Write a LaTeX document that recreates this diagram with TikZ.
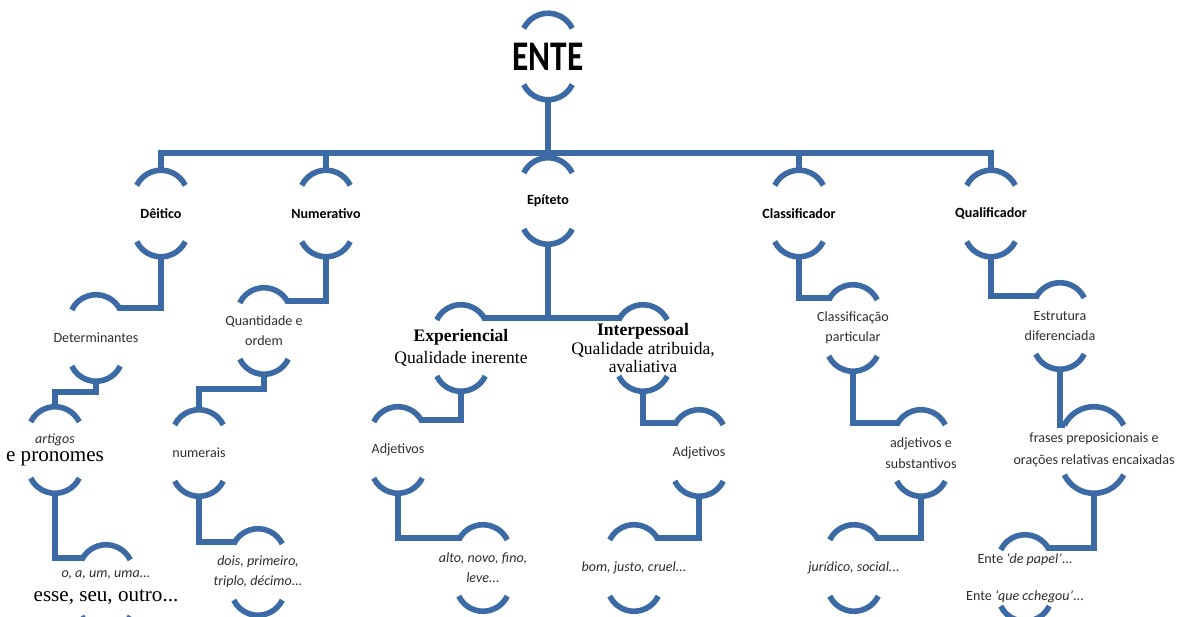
\documentclass[tikz,border=0pt]{standalone}
\usepackage{fontspec}
\setmainfont{Liberation Serif}
\setsansfont{Carlito}
\usepackage{xcolor}
\usepackage{tikz}
\usetikzlibrary{positioning}
\definecolor{brkblue}{HTML}{3B6AA5}
\definecolor{brkgrey}{HTML}{2E2E2E}
\newcommand{\Serif}[1]{{\rmfamily\fontsize{12.5}{15}\selectfont #1}}
\newcommand{\BigSerif}[1]{{\rmfamily\fontsize{15}{16}\selectfont #1}}

\begin{document}
\begin{tikzpicture}[x=0.025cm,y=0.025cm,
  brk/.style={align=center,inner sep=0pt,minimum height=2.15cm,
    font=\sffamily\fontsize{10}{14}\selectfont,text=brkgrey},
  head/.style={brk,font=\sffamily\bfseries\fontsize{10}{14}\selectfont,text=black},
  ex/.style={brk,font=\sffamily\itshape\fontsize{10}{14}\selectfont},
  link/.style={draw=brkblue,line width=4pt}]
\useasboundingbox (0,0) rectangle (1179,-617);

\node[brk,text=black,font=\sffamily\bfseries\fontsize{25}{28}\selectfont]
  (ente) at (548,-56.5) {\scalebox{0.95}[1.2]{ENTE}};

\node[head] (deit)  at (161,-213.5) {Dêitico};
\node[head] (num)   at (326,-213.5) {Numerativo};
\node[head] (epi)   at (548,-201)   {Epíteto};
\node[head] (class) at (799,-213.5) {Classificador};
\node[head] (qual)  at (991,-213.5) {Qualificador};

\node[brk] (det)    at (96,-338)   {Determinantes};
\node[brk] (quant)  at (264,-331)  {Quantidade e\\ordem};
\node[brk,text=black] (exper) at (461,-348)
  {\Serif{\bfseries Experiencial}\\[2pt]\Serif{Qualidade inerente}};
\node[brk,text=black] (inter) at (643,-348)
  {\Serif{\bfseries Interpessoal}\\[-1pt]\Serif{Qualidade atribuida,}\\[-1pt]\Serif{avaliativa}};
\node[brk] (clpart) at (853,-328)  {Classificação\\particular};
\node[brk] (estr)   at (1060,-326) {Estrutura\\diferenciada};

\node[brk] (art)    at (55,-450)   {\textit{artigos}\\[-1pt]\BigSerif{\color{black}e pronomes}};
\node[brk] (numer)  at (199,-453)  {numerais};
\node[brk] (adjL)   at (398,-450)  {Adjetivos};
\node[brk] (adjR)   at (699,-453)  {Adjetivos};
\node[brk] (adjsub) at (921,-453)  {adjetivos e\\[1pt]substantivos};
\node[brk] (frases) at (1094,-450) {frases preposicionais e\\[2pt]orações relativas encaixadas};

\node[brk] (oa)     at (106,-588)  {\textit{o, a, um, uma...}\\[3pt]\BigSerif{\color{black}esse, seu, outro...}};
\node[ex]  (dois)   at (258,-572)  {dois, primeiro,\\triplo, décimo...};
\node[ex]  (alto)   at (483,-568)  {alto, novo, fino,\\leve...};
\node[ex]  (bom)    at (634,-568)  {bom, justo, cruel...};
\node[ex]  (jur)    at (854,-568)  {jurídico, social...};
\node[brk] (ente2)  at (1025,-578) {Ente \textit{`de papel'}...\\[12pt]Ente \textit{`que cchegou'}...};

% brackets above and below every node
\foreach \n/\r in {ente/27,deit/27,num/27,epi/27,class/27,qual/27,
    det/27,quant/27,exper/27,inter/27,clpart/27,estr/27,
    art/27,numer/27,adjL/27,adjR/27,adjsub/27,frases/33,
    oa/27,dois/27,alto/27,bom/27,jur/27,ente2/27}{
  \draw[link] (\n.north) ++(0,-\r) ++(154:\r) arc[start angle=154,end angle=26,radius=\r];
  \draw[link] (\n.south) ++(0,\r) ++(206:\r) arc[start angle=206,end angle=334,radius=\r];
}

\coordinate (bus) at (548,-153);
\draw[link] (ente.south) -- (epi.north);
\draw[link] (deit.north) |- (bus) -| (qual.north);
\draw[link] (num.north) -- (num.north |- bus);
\draw[link] (class.north) -- (class.north |- bus);

\draw[link] (deit.south) |- ([shift={(23,-13)}]det.north);
\draw[link] (det.south) -- ++(0,-11) -| (art.north);
\draw[link] (art.south) |- ([shift={(-23,-13)}]oa.north);
\draw[link] (num.south) |- ([shift={(23,-13)}]quant.north);
\draw[link] (quant.south) -- ++(0,-15) -| (numer.north);
\draw[link] (numer.south) |- ([shift={(-23,-13)}]dois.north);

\draw[link] ([shift={(23,-13)}]exper.north) -| (epi.south);
\draw[link] ([shift={(-23,-13)}]inter.north) -| (epi.south);
\draw[link] (exper.south) |- ([shift={(23,-13)}]adjL.north);
\draw[link] (adjL.south) |- ([shift={(-23,-13)}]alto.north);
\draw[link] (inter.south) |- ([shift={(-23,-13)}]adjR.north);
\draw[link] (adjR.south) |- ([shift={(23,-13)}]bom.north);

\draw[link] (class.south) |- ([shift={(-23,-13)}]clpart.north);
\draw[link] (clpart.south) |- ([shift={(-23,-13)}]adjsub.north);
\draw[link] (adjsub.south) |- ([shift={(23,-13)}]jur.north);
\draw[link] (qual.south) |- ([shift={(-23,-13)}]estr.north);
\draw[link] (estr.south) |- ([shift={(-29,-18)}]frases.north);
\draw[link] (frases.south) |- ([shift={(23,-13)}]ente2.north);
\end{tikzpicture}
\end{document}
